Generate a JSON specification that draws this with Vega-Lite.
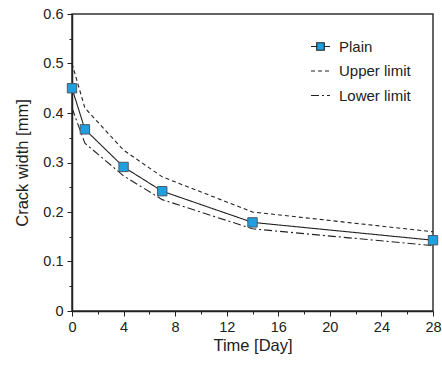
{
  "$schema": "https://vega.github.io/schema/vega-lite/v6.json",
  "width": 361,
  "height": 297,
  "autosize": {"type": "none"},
  "padding": {"left": 72, "top": 14, "right": 9, "bottom": 55},
  "background": "white",
  "config": {
    "font": "Liberation Sans",
    "view": {"stroke": "#333", "strokeWidth": 1.5},
    "axis": {
      "domainColor": "#222", "domainWidth": 1.5, "tickColor": "#222", "tickWidth": 1,
      "labelColor": "#222", "titleColor": "#222", "labelFontSize": 14.5, "titleFontSize": 16.5,
      "titleFontWeight": "normal", "grid": false, "labelFont": "Liberation Sans", "titleFont": "Liberation Sans"
    },
    "legend": {"labelFont": "Liberation Sans", "labelFontSize": 15, "labelColor": "#222"}
  },
  "data": {
    "values": [
      {"day": 0, "series": "Plain", "w": 0.45},
      {"day": 1, "series": "Plain", "w": 0.367},
      {"day": 4, "series": "Plain", "w": 0.291},
      {"day": 7, "series": "Plain", "w": 0.242},
      {"day": 14, "series": "Plain", "w": 0.179},
      {"day": 28, "series": "Plain", "w": 0.143},
      {"day": 0, "series": "Upper limit", "w": 0.5},
      {"day": 1, "series": "Upper limit", "w": 0.41},
      {"day": 4, "series": "Upper limit", "w": 0.325},
      {"day": 7, "series": "Upper limit", "w": 0.271},
      {"day": 14, "series": "Upper limit", "w": 0.2},
      {"day": 28, "series": "Upper limit", "w": 0.16},
      {"day": 0, "series": "Lower limit", "w": 0.41},
      {"day": 1, "series": "Lower limit", "w": 0.339},
      {"day": 4, "series": "Lower limit", "w": 0.273},
      {"day": 7, "series": "Lower limit", "w": 0.225},
      {"day": 14, "series": "Lower limit", "w": 0.166},
      {"day": 28, "series": "Lower limit", "w": 0.132}
    ]
  },
  "encoding": {
    "x": {
      "field": "day", "type": "quantitative",
      "scale": {"domain": [0, 28], "nice": false, "zero": false},
      "axis": {
        "title": "Time [Day]",
        "values": [0, 2, 4, 6, 8, 10, 12, 14, 16, 18, 20, 22, 24, 26, 28],
        "labelExpr": "datum.value % 4 === 0 ? format(datum.value, 'd') : ''",
        "tickSize": {"condition": {"test": "datum.value % 4 === 0", "value": 5}, "value": 3},
        "labelPadding": 4, "titlePadding": 4, "labelOverlap": false, "labelFlush": false
      }
    },
    "y": {
      "field": "w", "type": "quantitative",
      "scale": {"domain": [0, 0.6], "nice": false},
      "axis": {
        "title": "Crack width [mm]",
        "values": [0, 0.05, 0.1, 0.15, 0.2, 0.25, 0.3, 0.35, 0.4, 0.45, 0.5, 0.55, 0.6],
        "labelExpr": "round(datum.value * 100) % 10 === 0 ? format(datum.value, '.1~f') : ''",
        "tickSize": {"condition": {"test": "round(datum.value * 100) % 10 === 0", "value": 5}, "value": 3},
        "labelPadding": 4, "titlePadding": 12, "labelOverlap": false
      }
    }
  },
  "layer": [
    {
      "mark": {"type": "line", "color": "#222", "strokeWidth": 1.1},
      "encoding": {
        "detail": {"field": "series"},
        "strokeDash": {
          "field": "series", "type": "nominal",
          "scale": {"domain": ["Plain", "Upper limit", "Lower limit"], "range": [[1, 0], [4, 3], [8, 3, 2, 3]]},
          "legend": {
            "title": null,
            "orient": "none",
            "legendX": 238,
            "legendY": 22,
            "symbolType": "stroke",
            "symbolSize": 361,
            "symbolStrokeColor": "#222",
            "symbolStrokeWidth": 1.1,
            "rowPadding": 5.5,
            "labelOffset": 8,
            "encode": {
              "symbols": {
                "update": {
                  "shape": {"signal": "datum.value === 'Plain' ? 'M-1,0L-0.4,0M0.4,0L1,0M-0.4,-0.4L0.4,-0.4L0.4,0.4L-0.4,0.4Z' : 'stroke'"},
                  "fill": {"signal": "datum.value === 'Plain' ? '#1f9fe0' : 'transparent'"},
                  "fillOpacity": {"value": 1},
                  "stroke": {"value": "#222"},
                  "strokeWidth": {"value": 1.1},
                  "strokeOpacity": {"value": 1},
                  "opacity": {"value": 1}
                }
              }
            }
          }
        }
      }
    },
    {
      "transform": [{"filter": "datum.series === 'Plain'"}],
      "mark": {"type": "point", "shape": "square", "filled": true, "size": 88, "fill": "#1f9fe0", "stroke": "#4d5a66", "strokeWidth": 1, "opacity": 1}
    }
  ]
}
